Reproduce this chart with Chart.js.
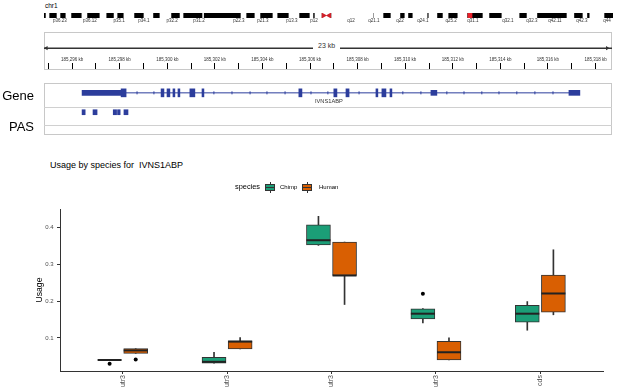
<!DOCTYPE html>
<html>
<head>
<meta charset="utf-8">
<script src="https://cdn.jsdelivr.net/npm/chart.js@4.4.0/dist/chart.umd.min.js"></script>
<style>
  body { margin: 0; background: #fff; font-family: "Liberation Sans", Arial, sans-serif; }
  #page { position: relative; width: 617px; height: 389px; overflow: hidden; background: #fff; }
  canvas, .box, .txt, .key { position: absolute; }
  .box { border: 1px solid #c8c8c8; box-sizing: border-box; }
  .txt { white-space: nowrap; color: #000; }
  .key { width: 10px; height: 11px; }
  .key::before { content: ''; position: absolute; left: 4.5px; top: 0; width: 1px; height: 11px; background: #333; }
  .key i { position: absolute; left: 0; top: 2px; width: 10px; height: 7px; box-sizing: border-box; border: 1px solid #333;
           background: linear-gradient(#333, #333) center / 100% 1px no-repeat, var(--c); }
</style>
</head>
<body>
<div id="page">
  <div class="txt" style="left:45px; top:2px; font-size:6.5px; line-height:8px;">chr1</div>
  <canvas id="ideogram" width="590" height="17" style="left:34px; top:9px;"></canvas>

  <div class="box" style="left:44px; top:32px; width:568px; height:38px;"></div>
  <canvas id="ruler" width="588" height="38" style="left:34px; top:32px;"></canvas>
  <div class="txt" style="left:313px; top:42px; font-size:7px; line-height:8px; background:#fff; padding:0 5px; color:#333;">23 kb</div>

  <div class="box" style="left:44px; top:83px; width:568px; height:52px;"></div>
  <canvas id="genes" width="588" height="52" style="left:34px; top:83px;"></canvas>
  <div class="txt" style="left:315px; top:97px; font-size:5.7px; line-height:8px; color:#333;">IVNS1ABP</div>
  <div class="txt" style="left:0; width:34px; text-align:right; top:88px; font-size:13px; line-height:16px;">Gene</div>
  <div class="txt" style="left:0; width:34px; text-align:right; top:119px; font-size:13px; line-height:16px;">PAS</div>

  <div class="txt" style="left:50px; top:159px; font-size:9px; line-height:12px;">Usage by species for&nbsp; IVNS1ABP</div>
  <div class="txt" style="left:235px; top:182px; font-size:7.4px; line-height:10px;">species</div>
  <div class="key" style="left:265px; top:182px;"><i style="--c:#1B9E77"></i></div>
  <div class="txt" style="left:280px; top:183px; font-size:6px; line-height:9px;">Chimp</div>
  <div class="key" style="left:302px; top:182px;"><i style="--c:#D95F02"></i></div>
  <div class="txt" style="left:319px; top:183px; font-size:6px; line-height:9px;">Human</div>

  <canvas id="usage" width="617" height="194" style="left:0; top:195px;"></canvas>
</div>
<script>
// chromosome 1 ideogram, Mb
const chrArms = [[0, 121.3], [126.1, 249.25]];
const lightBands = [[0.9, 2.2], [5.7, 7.0], [9.6, 11.8], [16.6, 18.8], [24.5, 27.2], [30.7, 32.0],
  [35.0, 39.4], [43.8, 47.7], [50.8, 55.6], [59.6, 60.9], [69.5, 69.9], [86.3, 88.5], [92.4, 94.6],
  [100.3, 102.1], [107.3, 111.7], [116.5, 117.8], [118.7, 121.3], [126.1, 144.1], [144.5, 148.5],
  [152.0, 155.9], [158.1, 159.4], [161.6, 167.8], [168.6, 172.1], [174.8, 177.0], [181.3, 185.3],
  [192.3, 194.9], [200.6, 208.1], [211.6, 215.9], [229.1, 232.1], [236.1, 237.8], [239.1, 245.3]];
const bandLabels = ['p36.23', 'p36.12', 'p35.1', 'p34.1', 'p32.2', 'p31.2', 'p22.3', 'p21.3', 'p13.3', 'p12',
  'q12', 'q21.1', 'q22', 'q24.1', 'q25.2', 'q31.1', 'q32.1', 'q32.3', 'q42.11', 'q42.3', 'q44'];
const bandLabelPos = [7.0, 20.1, 32.9, 43.8, 56.1, 67.9, 85.4, 95.9, 108.6, 118.3,
  134.5, 144.5, 155.9, 166.0, 178.3, 187.9, 203.2, 213.7, 223.8, 235.6, 246.6];
const centromere = [122.4, 125.0];
const locusMarker = [185.7, 187.5];

// gene track, kb on chr1
const viewStart = 185294.82;
const viewEnd = 185318.69;
const rulerLabelKb = [185296, 185298, 185300, 185302, 185304, 185306, 185308, 185310, 185312, 185314, 185316, 185318];
const geneSpan = [185296.42, 185317.34];
const utrExons = [[185296.42, 185298.06], [185311.08, 185311.33], [185316.88, 185317.34]];
const cdsExons = [[185298.06, 185298.27], [185299.74, 185299.86], [185299.99, 185300.11], [185300.24, 185300.32],
  [185300.45, 185300.53], [185300.95, 185301.16], [185301.46, 185301.54], [185305.53, 185305.66],
  [185307.00, 185307.13], [185307.51, 185307.64], [185308.77, 185308.85], [185309.02, 185309.19],
  [185309.36, 185309.44]];
const strandMarks = [185298.73, 185299.44, 185301.96, 185302.72, 185303.48, 185304.19, 185304.95, 185306.04,
  185306.75, 185308.06, 185309.90, 185310.66, 185311.75, 185312.47, 185313.22, 185313.94, 185314.69,
  185315.45, 185316.21];
const pasSites = [[185296.42, 185296.55], [185296.88, 185297.05], [185297.73, 185297.87], [185297.91, 185298.02],
  [185298.18, 185298.35]];

// usage boxplot
const categories = ['utr3', 'utr3', 'utr3', 'utr3', 'cds'];
const chimpMin = [0.040, 0.031, 0.352, 0.141, 0.121];
const chimpQ1 = [0.040, 0.031, 0.353, 0.152, 0.143];
const chimpMedian = [0.040, 0.035, 0.366, 0.166, 0.166];
const chimpQ3 = [0.040, 0.047, 0.408, 0.179, 0.189];
const chimpMax = [0.040, 0.061, 0.431, 0.180, 0.199];
const chimpOutliers = [[0.030], [], [], [0.220], []];
const humanMin = [0.058, 0.070, 0.191, 0.040, 0.163];
const humanQ1 = [0.058, 0.070, 0.270, 0.040, 0.170];
const humanMedian = [0.066, 0.090, 0.270, 0.061, 0.221];
const humanQ3 = [0.071, 0.092, 0.361, 0.091, 0.271];
const humanMax = [0.071, 0.101, 0.361, 0.100, 0.340];
const humanOutliers = [[0.041], [], [], [], []];
const usageTicks = [0.1, 0.2, 0.3, 0.4];

const geneBlue = '#2c3d9c';
const noPlugins = { legend: { display: false }, tooltip: { enabled: false } };

// ideogram
new Chart(document.getElementById('ideogram'), {
  type: 'bar',
  data: {
    datasets: [
      { data: chrArms.map(a => ({ x: a, y: 5 })), backgroundColor: '#000', barThickness: 7, order: 10 },
      { data: lightBands.map(b => ({ x: b, y: 5 })), backgroundColor: '#fff', barThickness: 5, order: 5 },
      { data: [{ x: locusMarker, y: 5 }], backgroundColor: '#e8202a', barThickness: 10, order: 1 },
      { type: 'scatter', data: [{ x: centromere[0], y: 5 }], pointStyle: 'triangle', rotation: 90, radius: 3.5,
        backgroundColor: '#d0202a', borderWidth: 0, order: 1 },
      { type: 'scatter', data: [{ x: centromere[1], y: 5 }], pointStyle: 'triangle', rotation: -90, radius: 3.5,
        backgroundColor: '#d0202a', borderWidth: 0, order: 1 }
    ].map(d => Object.assign({ indexAxis: 'y', grouped: false }, d))
  },
  options: {
    responsive: false,
    animation: false,
    layout: { padding: { left: 10, right: 11, top: 0, bottom: 0 } },
    plugins: noPlugins,
    scales: {
      x: {
        type: 'linear', min: 0, max: chrArms[1][1], offset: false,
        afterBuildTicks: s => { s.ticks = bandLabelPos.map(v => ({ value: v })); },
        ticks: { callback: (v, i) => bandLabels[i], autoSkip: false, maxRotation: 0, font: { size: 4.5 }, color: '#333', padding: 0 },
        grid: { display: false, drawTicks: false }, border: { display: false },
        afterFit: s => { s.height = 8; }
      },
      y: { type: 'linear', min: 0, max: 10, reverse: true, offset: false, display: false }
    }
  }
});

// ruler: tick marks below the axis line, labels mirrored above them
const rulerTicks = [];
rulerLabelKb.forEach(kb => { rulerTicks.push(kb - 1, kb); });
const arrowRow = 14;
new Chart(document.getElementById('ruler'), {
  type: 'line',
  data: {
    datasets: [
      { data: [{ x: viewStart, y: arrowRow }, { x: viewEnd, y: arrowRow }], borderColor: '#333', borderWidth: 1.5, pointRadius: 0 },
      { type: 'scatter', data: [{ x: viewStart + 0.1, y: arrowRow }], pointStyle: 'triangle', rotation: -90, radius: 2.5,
        backgroundColor: '#333', borderWidth: 0 },
      { type: 'scatter', data: [{ x: viewEnd - 0.2, y: arrowRow }], pointStyle: 'triangle', rotation: 90, radius: 2.5,
        backgroundColor: '#333', borderWidth: 0 }
    ]
  },
  options: {
    responsive: false,
    animation: false,
    layout: { padding: { left: 10, right: 10, top: 0, bottom: 1 } },
    plugins: noPlugins,
    scales: {
      x: {
        type: 'linear', min: viewStart, max: viewEnd,
        afterBuildTicks: s => { s.ticks = rulerTicks.map(v => ({ value: v })); },
        ticks: { callback: v => (v % 2 === 0 ? v.toLocaleString('en-US') + ' kb' : ''), autoSkip: false, maxRotation: 0,
                 mirror: true, font: { size: 4.5 }, color: '#333', padding: 1 },
        grid: { drawOnChartArea: false, drawTicks: true, tickLength: 6, color: '#000', lineWidth: 1 },
        border: { display: false },
        afterFit: s => { s.height = 6; }
      },
      y: { min: 0, max: 31, reverse: true, display: false }
    }
  }
});

// gene + PAS track
const geneRow = 6, pasRow = 30;
new Chart(document.getElementById('genes'), {
  type: 'bar',
  data: {
    datasets: [
      { type: 'line', data: geneSpan.map(x => ({ x, y: geneRow })), borderColor: geneBlue, borderWidth: 1, pointRadius: 0, order: 3 },
      { type: 'scatter', data: strandMarks.map(x => ({ x, y: geneRow })), pointStyle: 'line', rotation: 90, radius: 1.5,
        borderColor: geneBlue, borderWidth: 1, order: 2 },
      { data: utrExons.map(e => ({ x: e, y: geneRow })), indexAxis: 'y', grouped: false, barThickness: 5, backgroundColor: geneBlue, order: 1 },
      { data: cdsExons.map(e => ({ x: e, y: geneRow })), indexAxis: 'y', grouped: false, barThickness: 8, backgroundColor: geneBlue, order: 1 },
      { data: pasSites.map(e => ({ x: e, y: pasRow })), indexAxis: 'y', grouped: false, barThickness: 5, backgroundColor: geneBlue, order: 1 }
    ]
  },
  options: {
    responsive: false,
    animation: false,
    layout: { padding: { left: 10, right: 10, top: 0, bottom: 0 } },
    plugins: noPlugins,
    scales: {
      x: { type: 'linear', min: viewStart, max: viewEnd, offset: false, display: false },
      y: {
        type: 'linear', min: 0, max: 52, reverse: true, offset: false,
        afterBuildTicks: s => { s.ticks = [24, 46].map(v => ({ value: v })); },
        ticks: { display: false },
        grid: { color: '#d0d0d0', drawTicks: false, offset: false }, border: { display: false },
        afterFit: s => { s.width = 0; }
      }
    }
  }
});

// usage boxplot
const dodge = 0.125;
const boxBorder = '#333';
function boxDatasets(name, color, shift, mins, q1, med, q3, maxs, outliers) {
  const xs = categories.map((c, i) => i + shift);
  return [
    { label: name, data: xs.map((x, i) => ({ x, y: [q1[i], q3[i]] })), backgroundColor: color, borderColor: boxBorder,
      borderWidth: 1, borderSkipped: false, barThickness: 24, grouped: false, order: 2 },
    { data: xs.flatMap((x, i) => [{ x, y: [mins[i], q1[i]] }, { x, y: [q3[i], maxs[i]] }]), backgroundColor: boxBorder,
      borderWidth: 0, barThickness: 1, grouped: false, order: 3 },
    { type: 'scatter', data: xs.map((x, i) => ({ x, y: med[i] })), pointStyle: 'line', radius: 12,
      borderColor: '#222', borderWidth: 2, order: 1 },
    { type: 'scatter', data: outliers.flatMap((arr, i) => arr.map(v => ({ x: xs[i], y: v }))), pointStyle: 'circle',
      radius: 2, backgroundColor: '#000', borderWidth: 0, order: 1 }
  ];
}

new Chart(document.getElementById('usage'), {
  type: 'bar',
  data: {
    datasets: [
      ...boxDatasets('Chimp', '#1B9E77', -dodge, chimpMin, chimpQ1, chimpMedian, chimpQ3, chimpMax, chimpOutliers),
      ...boxDatasets('Human', '#D95F02', dodge, humanMin, humanQ1, humanMedian, humanQ3, humanMax, humanOutliers)
    ]
  },
  options: {
    responsive: false,
    animation: false,
    layout: { padding: { left: 34, right: 4, top: 13, bottom: 0 } },
    plugins: noPlugins,
    scales: {
      x: {
        type: 'linear', min: -0.6, max: 4.6, offset: false,
        afterBuildTicks: s => { s.ticks = categories.map((c, i) => ({ value: i })); },
        ticks: { callback: v => categories[v], autoSkip: false, minRotation: 90, maxRotation: 90,
                 font: { size: 7 }, color: '#4d4d4d', padding: 1 },
        grid: { drawOnChartArea: false, tickLength: 3, color: '#333', offset: false },
        border: { display: true, color: '#333', width: 1 },
        afterFit: s => { s.height = 18; }
      },
      y: {
        type: 'linear', min: 0.010, max: 0.451,
        afterBuildTicks: s => { s.ticks = usageTicks.map(v => ({ value: v })); },
        ticks: { callback: v => v.toFixed(1), font: { size: 6 }, color: '#4d4d4d', padding: 3.5 },
        grid: { drawOnChartArea: false, tickLength: 3, color: '#333' },
        border: { display: true, color: '#333', width: 1 },
        title: { display: true, text: 'Usage', font: { size: 8.6 }, color: '#000', padding: 0 },
        afterFit: s => { s.width = 26; }
      }
    }
  }
});
</script>
</body>
</html>
